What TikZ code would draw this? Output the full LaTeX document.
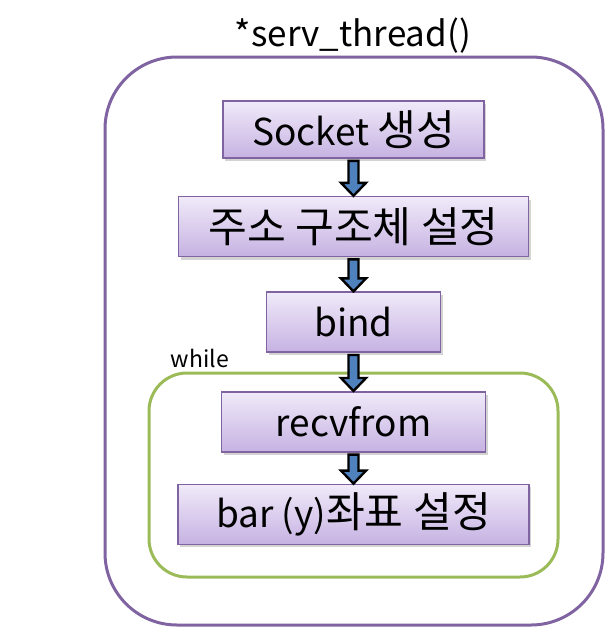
\documentclass[tikz,border=0pt]{standalone}
\usepackage{fontspec}
\setmainfont{Noto Sans CJK KR}
\newfontfamily\kr[Scale=1.14]{Noto Sans CJK KR}
\usetikzlibrary{positioning,calc,shadows}
\definecolor{framepurple}{HTML}{8064A2}
\definecolor{loopgreen}{HTML}{9BBB59}
\definecolor{arrowblue}{HTML}{4F81BD}
\definecolor{boxtop}{HTML}{F0EAF9}
\definecolor{boxbottom}{HTML}{C6B2E2}
\begin{document}
\begin{tikzpicture}[x=1pt,y=-1pt]
  \tikzset{
    node distance=35pt,
    stepbox/.style={draw=framepurple,line width=1.6pt,top color=boxtop,bottom color=boxbottom,
      font=\fontsize{37}{42}\selectfont,inner sep=0pt,minimum height=60pt,
      drop shadow={shadow xshift=2pt,shadow yshift=-3pt,opacity=0.35}},
    blockarrow/.style={draw=black,line width=2.4pt,fill=arrowblue,line join=miter,
      to path={let \p1=(\tikztostart), \p2=(\tikztotarget) in
        (\x1-5pt,\y1-2pt) -- (\x1+5pt,\y1-2pt) -- (\x1+5pt,\y2+13pt) -- (\x1+12.5pt,\y2+13pt)
        -- (\x1,\y2) -- (\x1-12.5pt,\y2+13pt) -- (\x1-5pt,\y2+13pt) -- cycle}},
  }
  \useasboundingbox (0,0) rectangle (605,627);
  % frames
  \draw[framepurple,line width=3pt,rounded corners=72pt] (105,57) rectangle (603,625);
  \draw[loopgreen,line width=3pt,rounded corners=38pt] (149,373) rectangle (558,577);
  \node (title) at (353,36) {\fontsize{35}{40}\selectfont *serv\_thread()};
  \node (while) at (200,358) {\fontsize{23}{26}\selectfont while};

  \node [stepbox,minimum width=261pt,minimum height=57pt] (sock) at (353.5,129.5) {Socket {\kr 생성}};
  \node [stepbox,minimum width=350pt] (addr) [below=37pt of sock] {\kr 주소 구조체 설정};
  \node [stepbox,minimum width=174pt] (bind) [below=34pt of addr] {bind};
  \node [stepbox,minimum width=264pt] (recv) [below=38pt of bind] {recvfrom};
  \node [stepbox,minimum width=351pt] (bar)  [below=31pt of recv] {bar (y){\kr 좌표 설정}};

  \path
  (sock.south) edge[blockarrow] (addr.north)
  (addr.south) edge[blockarrow] (bind.north)
  (bind.south) edge[blockarrow] (recv.north)
  (recv.south) edge[blockarrow] (bar.north);
\end{tikzpicture}
\end{document}
